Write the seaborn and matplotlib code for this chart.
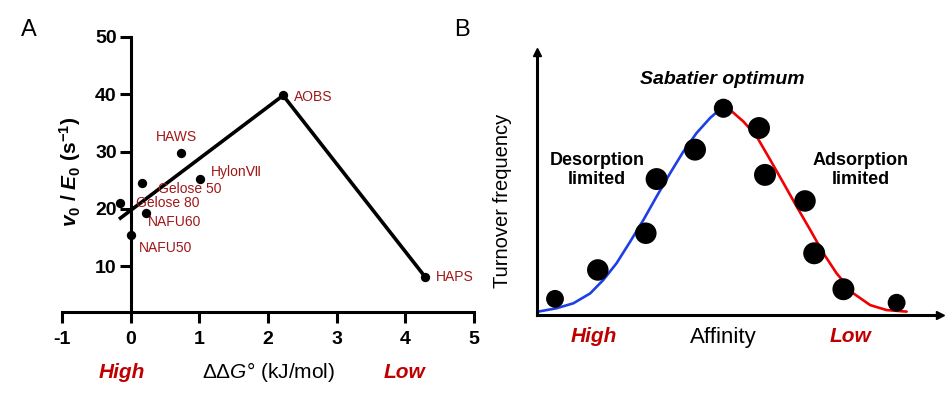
import matplotlib
matplotlib.use("Agg")
import matplotlib.pyplot as plt
import seaborn as sns
import pandas as pd

# ---------------- Panel A data ----------------
substrates = ["NAFU50", "Gelose 80", "NAFU60", "Gelose 50", "HAWS", "Hylon\u2166", "AOBS", "HAPS"]
ddg = [0.0, -0.15, 0.22, 0.17, 0.73, 1.01, 2.22, 4.29]
rate = [15.5, 21.1, 19.2, 24.5, 29.8, 25.3, 39.8, 8.1]
# label offsets (points) relative to each point: (dx, dy)
label_dx = [6, 11.5, 1.5, 11, -18, 8, 8, 8]
label_dy = [-9.5, 0.0, -6.5, -4.3, 11, 4.5, -1.2, 0]
fit_x = [-0.17, 2.22, 4.29]
fit_y = [18.2, 39.8, 8.1]
a_xticks = [-1, 0, 1, 2, 3, 4, 5]
a_yticks = [10, 20, 30, 40, 50]

# ---------------- Panel B data ----------------
blue_x = [0.3, 4.9, 9.1, 13.3, 16.6, 19.9, 23.3, 26.6, 29.9, 33.3, 36.6, 39.9, 43.3, 46.2, 46.8]
blue_y = [1.3, 2.6, 4.5, 8.3, 13.5, 19.9, 28.2, 36.5, 45.5, 54.5, 62.8, 69.9, 75.7, 79.6, 80.0]
red_x = [46.8, 48.7, 51.6, 54.9, 58.3, 61.6, 64.9, 68.3, 71.6, 74.9, 79.1, 83.3, 87.4, 92.4]
red_y = [80.0, 78.2, 74.3, 68.6, 59.6, 50.7, 41.7, 32.7, 23.7, 16.0, 8.3, 3.8, 1.9, 1.3]
pts_x = [4.5, 15.2, 27.2, 29.9, 39.5, 46.6, 55.5, 57.0, 67.0, 69.3, 76.6, 89.9]
pts_y = [6.2, 17.3, 31.4, 52.2, 63.5, 79.4, 71.8, 53.8, 43.8, 23.7, 9.9, 4.7]
pts_size = [165, 240, 240, 250, 250, 190, 250, 250, 240, 250, 250, 165]

sns.set_theme(style="white")
plt.rcParams['font.family'] = ['Liberation Sans', 'DejaVu Sans']
plt.rcParams['text.color'] = 'black'
plt.rcParams['axes.labelcolor'] = 'black'
plt.rcParams['xtick.color'] = 'black'
plt.rcParams['ytick.color'] = 'black'
plt.rcParams['mathtext.fontset'] = 'custom'
plt.rcParams['mathtext.rm'] = 'Liberation Sans'
plt.rcParams['mathtext.it'] = 'Liberation Sans:italic'
plt.rcParams['mathtext.bf'] = 'Liberation Sans:bold'
plt.rcParams['mathtext.bfit'] = 'Liberation Sans:italic:bold'

DARKRED = '#C00000'
LABELRED = '#A01818'

fig = plt.figure(figsize=(9.5, 3.97), dpi=100)

# ================= Panel A =================
axA = fig.add_axes([62 / 950, 1 - 312 / 397, 412 / 950, 275 / 397])
dfA = pd.DataFrame({"ddg": ddg, "rate": rate, "name": substrates})
dfFit = pd.DataFrame({"x": fit_x, "y": fit_y})
sns.lineplot(data=dfFit, x="x", y="y", ax=axA, color='black', lw=2.6, sort=False,
             estimator=None, solid_capstyle='butt')
sns.scatterplot(data=dfA, x="ddg", y="rate", ax=axA, color='black', s=45,
                edgecolor='black', linewidth=0, zorder=5)
for name, x, y, dx, dy in zip(substrates, ddg, rate, label_dx, label_dy):
    axA.annotate(name, (x, y), xytext=(dx, dy), textcoords='offset points',
                 ha='left', va='center', fontsize=10, color=LABELRED,
                 family=['Liberation Sans', 'DejaVu Sans'])
axA.set_xlim(-1, 5)
axA.set_ylim(2, 50)
axA.spines['left'].set_position(('data', 0))
axA.spines['right'].set_visible(False)
axA.spines['top'].set_visible(False)
for s in ['left', 'bottom']:
    axA.spines[s].set_linewidth(2.2)
    axA.spines[s].set_color('black')
axA.set_xticks(a_xticks)
axA.set_yticks(a_yticks)
axA.set_xticklabels([str(t) for t in a_xticks], fontsize=14, fontweight='bold')
axA.set_yticklabels([str(t) for t in a_yticks], fontsize=14, fontweight='bold')
axA.tick_params(axis='both', direction='out', length=8, width=2.2, color='black',
                labelcolor='black', bottom=True, left=True)
axA.tick_params(axis='x', pad=6)
axA.tick_params(axis='y', pad=2)
axA.set_xlabel('')
axA.set_ylabel('')
fig.text(70 / 950, 1 - 172 / 397,
         r'$\mathbfit{v}_{\mathbf{0}}$$\mathbf{\ /\ }$$\mathbfit{E}_{\mathbf{0}}$$\mathbf{\ (s^{-1})}$',
         rotation=90, ha='center', va='center', fontsize=15, color='black')
fig.text(269 / 950, 1 - 372 / 397, r'$\Delta\Delta \mathit{G}$° (kJ/mol)',
         ha='center', va='center', fontsize=15, color='black')
fig.text(122 / 950, 1 - 372 / 397, 'High', ha='center', va='center', fontsize=15,
         fontweight='bold', fontstyle='italic', color=DARKRED)
fig.text(404 / 950, 1 - 372 / 397, 'Low', ha='center', va='center', fontsize=15,
         fontweight='bold', fontstyle='italic', color=DARKRED)
fig.text(29 / 950, 1 - 30 / 397, 'A', ha='center', va='center', fontsize=17, color='black')
fig.text(462 / 950, 1 - 30 / 397, 'B', ha='center', va='center', fontsize=17, color='black')

# ================= Panel B =================
axB = fig.add_axes([537 / 950, 1 - 315 / 397, 403 / 950, 263 / 397])
dfBlue = pd.DataFrame({"x": blue_x, "y": blue_y})
dfRed = pd.DataFrame({"x": red_x, "y": red_y})
dfPts = pd.DataFrame({"x": pts_x, "y": pts_y, "s": pts_size})
sns.lineplot(data=dfBlue, x="x", y="y", ax=axB, color='#1F3FE6', lw=1.9,
             sort=False, estimator=None)
sns.lineplot(data=dfRed, x="x", y="y", ax=axB, color='#F00000', lw=1.9,
             sort=False, estimator=None)
axB.scatter(dfPts["x"], dfPts["y"], s=dfPts["s"], color='black', linewidths=0, zorder=5)
axB.set_xlim(0, 100.75)
axB.set_ylim(0, 101)
for s in ['right', 'top']:
    axB.spines[s].set_visible(False)
for s in ['left', 'bottom']:
    axB.spines[s].set_linewidth(2.2)
    axB.spines[s].set_color('black')
axB.set_xticks([])
axB.set_yticks([])
axB.set_xlabel('')
axB.set_ylabel('')
axB.plot(1, 0, '>', color='black', markersize=6, transform=axB.transAxes, clip_on=False)
axB.plot(0, 1, '^', color='black', markersize=6, transform=axB.transAxes, clip_on=False)

fig.text(722 / 950, 1 - 80 / 397, 'Sabatier optimum', ha='center', va='center',
         fontsize=14, fontweight='bold', fontstyle='italic', color='black')
fig.text(597 / 950, 1 - 170 / 397, 'Desorption\nlimited', ha='center', va='center',
         fontsize=13, fontweight='bold', linespacing=1.15, color='black')
fig.text(861 / 950, 1 - 170 / 397, 'Adsorption\nlimited', ha='center', va='center',
         fontsize=13, fontweight='bold', linespacing=1.15, color='black')
fig.text(503 / 950, 1 - 201 / 397, 'Turnover frequency', rotation=90,
         ha='center', va='center', fontsize=14.5, color='black')
fig.text(594 / 950, 1 - 337 / 397, 'High', ha='center', va='center', fontsize=15,
         fontweight='bold', fontstyle='italic', color=DARKRED)
fig.text(723 / 950, 1 - 337 / 397, 'Affinity', ha='center', va='center', fontsize=16,
         color='black')
fig.text(851 / 950, 1 - 337 / 397, 'Low', ha='center', va='center', fontsize=15,
         fontweight='bold', fontstyle='italic', color=DARKRED)

fig.savefig('out.png', dpi=100, facecolor='white')
